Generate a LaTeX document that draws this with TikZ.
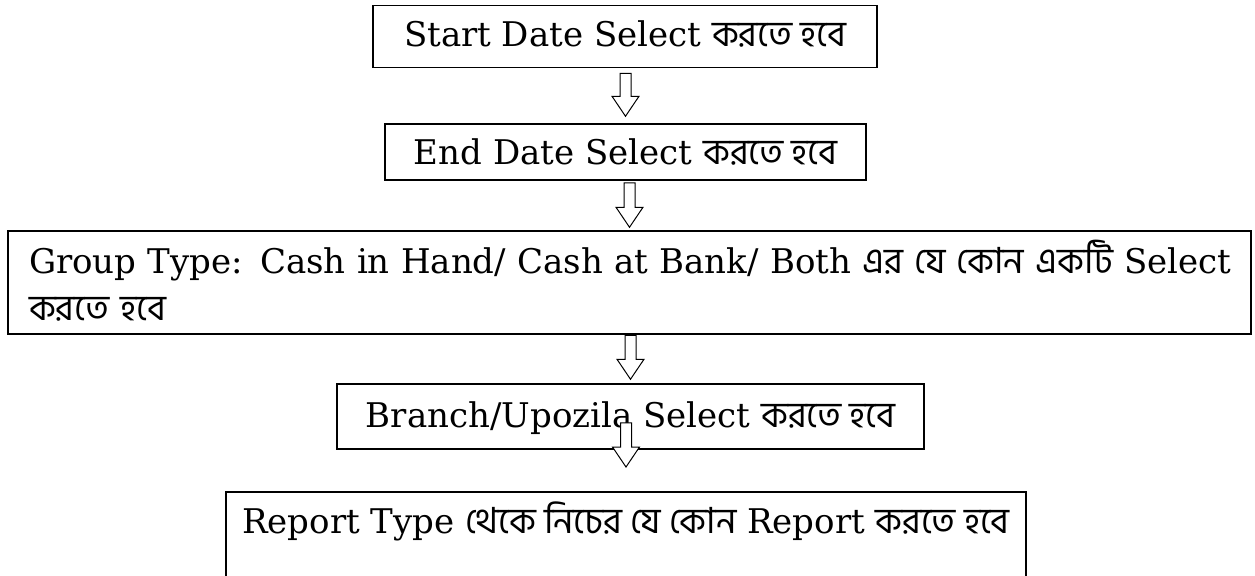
\documentclass[tikz,border=0pt]{standalone}
\usepackage{fontspec}
\setmainfont{DejaVu Serif}
\newfontfamily\bnfont[Script=Bengali]{Hind Siliguri}
\newcommand{\bn}{\bnfont\fontsize{18}{23.5}\selectfont}
\usetikzlibrary{calc}

% hollow block arrow: from below node #1 to above node #2, #3/#4 = y offsets
\newcommand{\hollowarrow}[4]{%
  \draw[blockarrow] ($(#1.south -| #2.north)+(-5.5,#3)$) -- ($(#2.north)+(-5.5,#4+20)$) -- ++(-8,0)
    -- ($(#2.north)+(0,#4)$) -- ++(13.5,20) -- ++(-8,0) -- ($(#1.south -| #2.north)+(5.5,#3)$) -- cycle;}

\begin{document}
\begin{tikzpicture}[x=0.5pt,y=0.5pt,
    box/.style={draw,rectangle,line width=0.75pt,inner xsep=0pt,inner ysep=0pt,font=\fontsize{17}{23.5}\selectfont},
    blockarrow/.style={draw,fill=white,line width=0.5pt}]

        \useasboundingbox (0,0) rectangle (1255,-575);

        \node[box,minimum width=252pt,text height=20.5pt,text depth=10.5pt] (start) at (625,-36.5) {Start Date Select {\bn করতে হবে}};
        \node[box,minimum width=240.5pt,text height=20pt,text depth=8pt] (enddate) at (625.5,-152) {End Date Select {\bn করতে হবে}};
        \node[box,text width=600.5pt,inner xsep=10.5pt,align=left] (grouptype) at (629.5,-282.5)
            {\rule{0pt}{21pt}\mbox{Group Type: Cash in Hand/ Cash at Bank/ Both {\bn এর যে কোন একটি} Select}\\{\bn করতে হবে}\rule[-7pt]{0pt}{7pt}};
        \node[box,minimum width=293.5pt,text height=21.5pt,text depth=11pt] (branch) at (630.5,-416.5) {Branch/Upozila Select {\bn করতে হবে}};
        \node[box,anchor=north,minimum width=400pt,text height=21pt,text depth=40pt] (report) at (626,-491) {Report Type {\bn থেকে নিচের যে কোন} Report {\bn করতে হবে}};

        \hollowarrow{start}{enddate}{-5}{7}
        \hollowarrow{enddate}{grouptype}{-2}{3}
        \hollowarrow{grouptype}{branch}{-0.5}{4}
        \hollowarrow{branch}{report}{27}{24}
    \end{tikzpicture}
\end{document}
